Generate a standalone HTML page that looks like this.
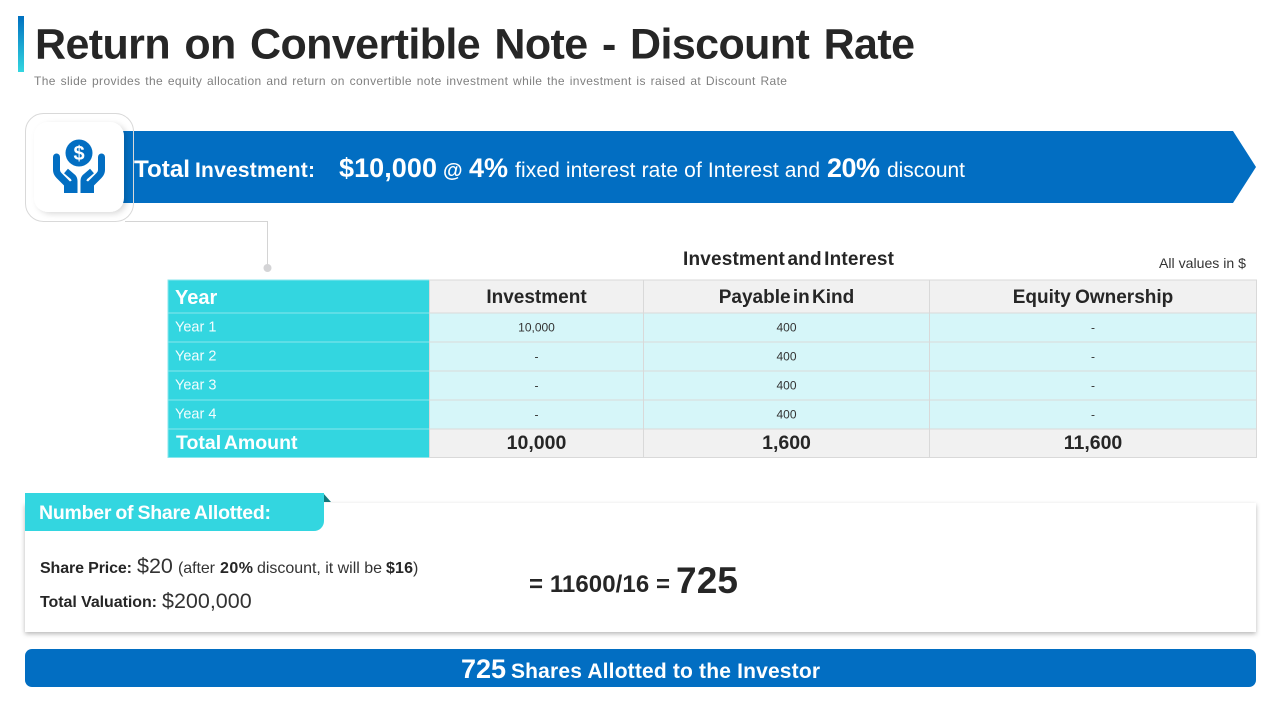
<!DOCTYPE html>
<html lang="en">
<head>
<meta charset="utf-8">
<title>Return on Convertible Note - Discount Rate</title>
<style>
html,body{margin:0;padding:0;background:#fff;width:1280px;height:720px;overflow:hidden}
svg{display:block;font-family:"Liberation Sans",Arial,sans-serif}
.b{font-weight:700}
</style>
</head>
<body>
<svg id="slide" xmlns="http://www.w3.org/2000/svg" width="1280" height="720" viewBox="0 0 1280 720">
<defs>
<linearGradient id="accentGrad" x1="0" y1="0" x2="0" y2="1"><stop offset="0" stop-color="#0070C0"/><stop offset="1" stop-color="#33D6E0"/></linearGradient>
<filter id="iconShadow" x="-20%" y="-20%" width="140%" height="140%"><feDropShadow dx="3" dy="2" stdDeviation="3" flood-color="#000" flood-opacity=".14"/></filter>
<filter id="cardShadow" x="-2%" y="-10%" width="104%" height="125%"><feDropShadow dx="0" dy="2" stdDeviation="2.5" flood-color="#000" flood-opacity=".28"/></filter>
</defs>
<rect width="1280" height="720" fill="#fff"/>

<rect x="18" y="16" width="6" height="56" fill="url(#accentGrad)"/>
<text x="35" y="58.5" class="b" font-size="43" fill="#262626" textLength="880" lengthAdjust="spacing" style="word-spacing:3px">Return on Convertible Note - Discount Rate</text>
<text x="34" y="85" font-size="12" fill="#808080" textLength="753" lengthAdjust="spacing" style="word-spacing:1px">The slide provides the equity allocation and return on convertible note investment while the investment is raised at Discount Rate</text>

<path d="M125 221.5H267.5V266" fill="none" stroke="#d4d4d4" stroke-width="1"/>
<circle cx="267.5" cy="268" r="4" fill="#d4d4d6"/>
<polygon points="120,131 1233,131 1256,167 1233,203 120,203" fill="#026EC2"/>
<rect x="34" y="122" width="90" height="90" rx="14" fill="#fff" filter="url(#iconShadow)"/>
<rect x="25.5" y="113.5" width="108" height="108" rx="18" fill="none" stroke="#d9d9d9"/>
<g>
  <circle cx="79" cy="153" r="13.5" fill="#026EC2"/>
  <g fill="none" stroke="#026EC2" stroke-width="7" stroke-linejoin="round">
    <path d="M56.500 157V170Q56.500 173 59 175.500L68 184.500" stroke-linecap="round"/>
    <path d="M101.500 157V170Q101.500 173 99 175.500L90 184.500" stroke-linecap="round"/>
    <path d="M66 171L73 177Q74.500 178.500 74.500 181V190" stroke-width="6"/>
    <path d="M92 171L85 177Q83.500 178.500 83.500 181V190" stroke-width="6"/>
  </g>
  <polygon points="64,184 71,181 77.500,181 77.500,193 64,193" fill="#026EC2"/>
  <polygon points="94,184 87,181 80.500,181 80.500,193 94,193" fill="#026EC2"/>
</g>
<text x="79" y="160" text-anchor="middle" class="b" font-size="20" fill="#fff">$</text>

<g fill="#fff">
  <text x="134" y="177" class="b" font-size="24" textLength="56" lengthAdjust="spacingAndGlyphs">Total</text>
  <text x="195" y="177" class="b" font-size="21" textLength="120" lengthAdjust="spacing">Investment:</text>
  <text x="339" y="177" class="b" font-size="27" textLength="98" lengthAdjust="spacing">$10,000</text>
  <text x="443" y="177" class="b" font-size="20">@</text>
  <text x="469" y="177" class="b" font-size="27" textLength="39" lengthAdjust="spacing">4%</text>
  <text x="515" y="177" font-size="21" textLength="305" lengthAdjust="spacing">fixed interest rate of Interest and</text>
  <text x="827" y="177" class="b" font-size="27" textLength="53" lengthAdjust="spacing">20%</text>
  <text x="887" y="177" font-size="21" textLength="78" lengthAdjust="spacing">discount</text>
</g>

<text x="683" y="265" class="b" font-size="19" fill="#262626" textLength="211" lengthAdjust="spacing" style="word-spacing:-3px">Investment and Interest</text>
<text x="1159" y="268" font-size="14" fill="#333" textLength="87" lengthAdjust="spacingAndGlyphs">All values in $</text>
<g id="tableLayer"></g>

<rect x="25" y="503" width="1231" height="129" fill="#fff" filter="url(#cardShadow)"/>
<polygon points="323,493 331,502 323,502" fill="#14777B"/>
<path d="M25 493H324V521a10 10 0 0 1-10 10H25z" fill="#33D6E0"/>
<text x="39" y="519" class="b" font-size="19.5" fill="#fff" textLength="232" lengthAdjust="spacing" style="word-spacing:-1px">Number of Share Allotted:</text>

<text x="40" y="573" class="b" font-size="16" fill="#262626" textLength="92" lengthAdjust="spacing">Share Price:</text>
<text x="137" y="573" font-size="21.5" fill="#333">$20</text>
<text x="178" y="573" font-size="16" fill="#333" textLength="37" lengthAdjust="spacing">(after</text>
<text x="220" y="573" class="b" font-size="16" fill="#262626" textLength="33" lengthAdjust="spacing">20%</text>
<text x="257" y="573" font-size="16" fill="#333" textLength="125" lengthAdjust="spacing">discount, it will be</text>
<text x="386" y="573" class="b" font-size="16" fill="#262626" textLength="27" lengthAdjust="spacing">$16</text>
<text x="413" y="573" font-size="16" fill="#333">)</text>
<text x="40" y="607" class="b" font-size="16" fill="#262626" textLength="117" lengthAdjust="spacing">Total Valuation:</text>
<text x="162" y="608" font-size="21.5" fill="#333">$200,000</text>

<text x="529" y="592" class="b" font-size="24" fill="#262626" textLength="141" lengthAdjust="spacing">= 11600/16 =</text>
<text x="676" y="593" class="b" font-size="37" fill="#262626" textLength="62" lengthAdjust="spacing">725</text>

<rect x="25" y="649" width="1231" height="38" rx="7" fill="#026EC2"/>
<text x="461" y="678" class="b" font-size="27" fill="#fff" textLength="45" lengthAdjust="spacing">725</text>
<text x="511" y="678" class="b" font-size="21" fill="#fff" textLength="309" lengthAdjust="spacing">Shares Allotted to the Investor</text>
</svg>

<script>
const columnTitles = ["Year", "Investment", "Payable in Kind", "Equity Ownership"];
const yearLabels = ["Year 1", "Year 2", "Year 3", "Year 4"];
const investmentValues = ["10,000", "-", "-", "-"];
const payableValues = ["400", "400", "400", "400"];
const equityValues = ["-", "-", "-", "-"];
const totalRow = ["Total Amount", "10,000", "1,600", "11,600"];

const layer = document.getElementById('tableLayer');
const NS = 'http://www.w3.org/2000/svg';
const colEdges = [168, 429.5, 643.5, 929.5, 1256.5];
const headerTop = 280;
const headerBottom = 313;
const rowHeight = 29;
const totalBottom = 457.5;

function makeRect(x, y, w, h, fill, stroke) {
  const r = document.createElementNS(NS, 'rect');
  r.setAttribute('x', x);
  r.setAttribute('y', y);
  r.setAttribute('width', w);
  r.setAttribute('height', h);
  r.setAttribute('fill', fill);
  r.setAttribute('stroke', stroke);
  r.setAttribute('stroke-width', '1');
  layer.appendChild(r);
  return r;
}

function makeText(str, x, y, size, bold, fill, anchor) {
  const t = document.createElementNS(NS, 'text');
  t.textContent = str;
  t.setAttribute('x', x);
  t.setAttribute('y', y);
  t.setAttribute('font-size', size);
  t.setAttribute('font-weight', bold ? '700' : '400');
  t.setAttribute('fill', fill);
  t.setAttribute('text-anchor', anchor);
  layer.appendChild(t);
  return t;
}

function colCenter(i) {
  return (colEdges[i] + colEdges[i + 1]) / 2;
}

const TEAL = '#33D6E0', TEAL_LINE = '#8AE6EC', GREY = '#F1F1F1', LIGHT = '#D6F6F9', LINE = '#D9D9D9', DARK = '#262626';

columnTitles.forEach((title, c) => {
  const cell = makeRect(colEdges[c], headerTop, colEdges[c + 1] - colEdges[c], headerBottom - headerTop, c === 0 ? TEAL : GREY, c === 0 ? TEAL_LINE : LINE);
  
  
  const label = c === 0
    ? makeText(title, 175, 304, 20, true, '#fff', 'start')
    : makeText(title, colCenter(c), 303, 19, true, DARK, 'middle');
  label.style.wordSpacing = c === 2 ? '-3px' : '-1px';
  
  
});

yearLabels.forEach((year, r) => {
  const top = headerBottom + r * rowHeight;
  const rowValues = [investmentValues[r], payableValues[r], equityValues[r]];
  const cell = makeRect(colEdges[0], top, colEdges[1] - colEdges[0], rowHeight, TEAL, TEAL_LINE);
  
  
  const label = makeText(year, 175, top + 18.5, 14.5, false, '#F2FDFE', 'start');
  
  
  rowValues.forEach((val, i) => {
    const c = i + 1;
    const valueCell = makeRect(colEdges[c], top, colEdges[c + 1] - colEdges[c], rowHeight, LIGHT, LINE);
    
    
    const valueText = makeText(val, colCenter(c), top + 18.5, 12, false, '#333', 'middle');
    
    
  });
});

totalRow.forEach((val, c) => {
  const top = headerBottom + yearLabels.length * rowHeight;
  const cell = makeRect(colEdges[c], top, colEdges[c + 1] - colEdges[c], totalBottom - top, c === 0 ? TEAL : GREY, c === 0 ? TEAL_LINE : LINE);
  
  
  const text = c === 0
    ? makeText(val, 176, 449, 19.5, true, '#fff', 'start')
    : makeText(val, colCenter(c), 449, 19.5, true, DARK, 'middle');
  text.style.wordSpacing = '-2px';
  
  
});
</script>
</body>
</html>
